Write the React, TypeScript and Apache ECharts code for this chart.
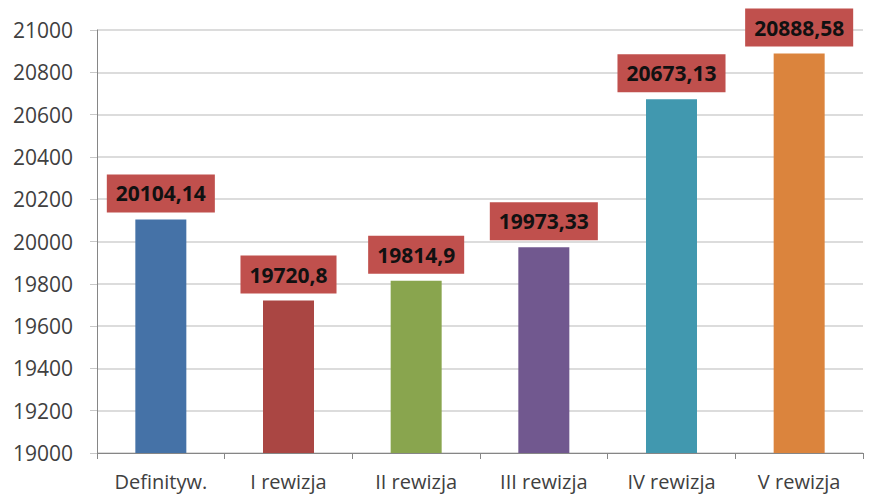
import React, { useEffect, useRef } from "react";
import * as echarts from "echarts";

const categories = ["Definityw.", "I rewizja", "II rewizja", "III rewizja", "IV rewizja", "V rewizja"];
const values = [20104.14, 19720.8, 19814.9, 19973.33, 20673.13, 20888.58];
const barColors = ["#4572A7", "#AA4643", "#89A54E", "#71588F", "#4198AF", "#DB843D"];

export default function App() {
  const ref = useRef<HTMLDivElement>(null);
  useEffect(() => {
    if (!ref.current) return;
    const chart = echarts.init(ref.current, null, { renderer: "svg" });
    chart.setOption({
      animation: false,
      grid: { left: 97, right: 25, top: 30, bottom: 47 },
      xAxis: {
        type: "category",
        data: categories,
        axisLine: { lineStyle: { color: "#868686" } },
        axisTick: { show: true, alignWithLabel: false, length: 6, lineStyle: { color: "#868686" } },
        axisLabel: { color: "#404040", fontSize: 20, fontFamily: "Open Sans", margin: 18 },
      },
      yAxis: {
        type: "value",
        min: 19000,
        max: 21000,
        interval: 200,
        axisLine: { show: true, lineStyle: { color: "#868686" } },
        axisTick: { show: true, length: 7, lineStyle: { color: "#C8C8C8" } },
        splitLine: { lineStyle: { color: "#D0D0D0", width: 1.5 } },
        axisLabel: {
          color: "#404040",
          fontSize: 21,
          fontFamily: "Open Sans",
          margin: 24,
          formatter: (v: number) => String(v),
        },
      },
      series: [
        {
          type: "bar",
          barWidth: 51,
          data: values.map((v, i) => ({ value: v, itemStyle: { color: barColors[i] } })),
          label: {
            show: true,
            position: "top",
            distance: 7,
            formatter: (p: any) => String(p.value).replace(".", ","),
            backgroundColor: "#C0504D",
            color: "#111",
            fontWeight: "bold",
            fontSize: 21,
            lineHeight: 22,
            fontFamily: "Open Sans",
            padding: [8, 9, 8, 9],
          },
        },
      ],
    });
    return () => chart.dispose();
  }, []);
  return <div ref={ref} style={{ width: 888, height: 500, position: "absolute", left: 0, top: 0 }} />;
}
